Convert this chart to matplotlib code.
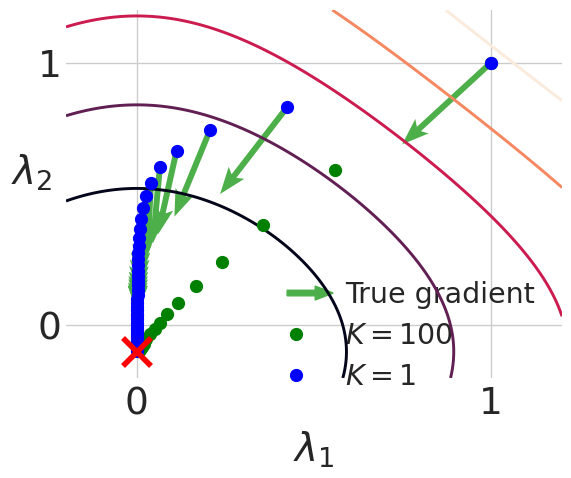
import numpy as np
import matplotlib
matplotlib.use("Agg")
import matplotlib.pyplot as plt
import seaborn as sns
from matplotlib.legend_handler import HandlerBase
from matplotlib.patches import FancyArrow

# loss surface over (lambda1, lambda2): minimum and shape
loss_min = (0.0, -0.1)
y_stretch = 1.05
coupling = 0.9
contour_levels = [0.35, 0.8, 1.48, 2.3, 3.45]

# K = 1 run (blue)
k1_x = [1.000, 0.424, 0.206, 0.112, 0.065, 0.040, 0.026, 0.017, 0.012, 0.009,
        0.007, 0.005, 0.004, 0.004, 0.003, 0.003, 0.003, 0.002, 0.002, 0.002,
        0.002, 0.001, 0.001, 0.001, 0.001, 0.001, 0.001, 0.001, 0.000, 0.000,
        0.000, 0.000, 0.000, 0.000, 0.000, 0.000, 0.000, 0.000, 0.000, 0.000,
        0.000, 0.000, 0.000, 0.000]
k1_y = [1.000, 0.830, 0.742, 0.664, 0.602, 0.541, 0.492, 0.447, 0.406, 0.368,
        0.334, 0.303, 0.276, 0.254, 0.231, 0.208, 0.189, 0.170, 0.152, 0.133,
        0.117, 0.102, 0.087, 0.072, 0.057, 0.045, 0.034, 0.023, 0.011, 0.000,
        -0.011, -0.019, -0.027, -0.038, -0.045, -0.053, -0.061, -0.068, -0.072,
        -0.080, -0.083, -0.087, -0.091, -0.098]

# true gradient arrows drawn from the first K = 1 iterates
grad_u = [-0.251, -0.189, -0.100, -0.053, -0.020, -0.011, -0.006, -0.004, -0.003, -0.002,
          -0.002, -0.001, -0.001, -0.001, -0.001, -0.001, -0.001, -0.001, -0.001, -0.001]
grad_v = [-0.311, -0.330, -0.328, -0.319, -0.290, -0.270, -0.255, -0.240, -0.230, -0.220,
          -0.210, -0.200, -0.190, -0.180, -0.170, -0.160, -0.140, -0.120, -0.100, -0.080]

# K = 100 run (green)
k100_x = [1.000, 0.559, 0.357, 0.239, 0.166, 0.117, 0.086, 0.066, 0.051, 0.037,
          0.027, 0.021, 0.014, 0.008, 0.003]
k100_y = [1.000, 0.591, 0.383, 0.242, 0.149, 0.087, 0.042, 0.010, -0.015, -0.034,
          -0.053, -0.072, -0.083, -0.092, -0.098]

arrow_green = "#4daf4a"
text_color = "#262626"


class ArrowHandler(HandlerBase):
    def create_artists(self, legend, orig_handle, xdescent, ydescent,
                       width, height, fontsize, trans):
        y = height / 2 - ydescent
        arr = FancyArrow(0.18 * width - xdescent, y, 1.62 * width, 0,
                         width=4, head_width=10, head_length=13,
                         length_includes_head=True, color=arrow_green,
                         transform=trans)
        return [arr]


fig = plt.figure(figsize=(5.71, 4.78), dpi=100)
ax = fig.add_axes([66 / 571, 100 / 478, 496 / 571, 368 / 478])

# contours of the loss
gx, gy = np.meshgrid(np.linspace(-0.2, 1.2, 400), np.linspace(-0.2, 1.2, 400))
u = gx - loss_min[0]
v = gy - loss_min[1]
loss = u ** 2 + (v / y_stretch) ** 2 + coupling * (u * v) ** 2
rocket = sns.color_palette("rocket", as_cmap=True)
ax.contour(gx, gy, loss, levels=contour_levels,
           colors=[rocket(t) for t in np.linspace(0, 1, len(contour_levels))],
           linewidths=2.1, zorder=3)

n_arr = len(grad_u)
q = ax.quiver(k1_x[:n_arr], k1_y[:n_arr], grad_u, grad_v, angles="xy",
              scale_units="xy", scale=1, color=arrow_green, width=0.012,
              headwidth=3.3, headlength=4.5, headaxislength=3.8,
              zorder=2, label="True gradient")
ax.plot(k100_x, k100_y, "o", color="green", ms=8.5, zorder=4, label="$K=100$")
ax.plot(k1_x, k1_y, "o", color="blue", ms=8.5, zorder=5, label="$K=1$")
ax.plot([loss_min[0]], [loss_min[1]], "x", color="red", ms=20, mew=4, zorder=6)

ax.set_xlim(-0.2, 1.2)
ax.set_ylim(-0.2, 1.2)
ax.set_xticks([0, 1])
ax.set_yticks([0, 1])
ax.tick_params(length=0, labelsize=27, labelcolor=text_color)
ax.tick_params(axis="x", pad=6)
ax.tick_params(axis="y", pad=3)
ax.grid(True, color="#cccccc", lw=1)
ax.set_axisbelow(True)
for s in ax.spines.values():
    s.set_visible(False)

ax.set_xlabel(r"$\lambda_1$", fontsize=28, color=text_color, labelpad=5)
ax.set_ylabel(r"$\lambda_2$", fontsize=28, color=text_color, rotation=0,
              va="center", ha="center")
ax.yaxis.set_label_coords(-0.069, 0.557)

leg = ax.legend(handler_map={type(q): ArrowHandler()}, loc="upper left",
                bbox_to_anchor=(282 / 571, 1 - 281 / 478),
                bbox_transform=fig.transFigure, frameon=False, fontsize=20.5,
                handlelength=1.0, handletextpad=1.22, borderpad=0,
                borderaxespad=0, labelspacing=0.45, numpoints=1)
leg.set_zorder(2.5)
for t in leg.get_texts():
    t.set_color(text_color)

fig.savefig("out.png", dpi=100)
